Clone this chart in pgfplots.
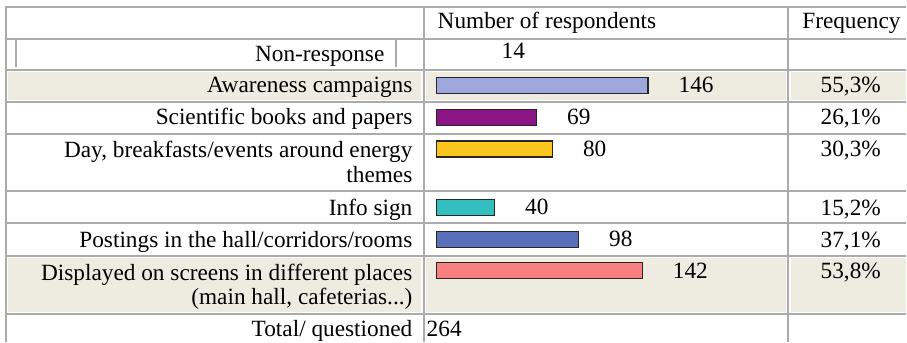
\documentclass[border=0pt]{standalone}
\usepackage{fontspec}
\setmainfont{Liberation Serif}
\usepackage{pgfplots}
\pgfplotsset{compat=1.18}

\definecolor{rule}{HTML}{ABABAB}
\definecolor{cellbg}{HTML}{EEECE1}
\definecolor{cAware}{HTML}{9FA8DE}
\definecolor{cBooks}{HTML}{8C1585}
\definecolor{cDay}{HTML}{FAC51C}
\definecolor{cInfo}{HTML}{33BFBF}
\definecolor{cPost}{HTML}{5A6FB9}
\definecolor{cScreen}{HTML}{F88080}

\tikzset{
  txt/.style={font=\fontsize{23.3bp}{25bp}\selectfont, inner sep=0pt},
  rl/.style={draw=rule, line width=2bp},
}

\begin{document}
\begin{tikzpicture}
% Frame of the table: rules, shaded rows and all text, in pixel units
\begin{axis}[
  width=907bp, height=342bp, scale only axis,
  xmin=0, xmax=907, ymin=0, ymax=342, y dir=reverse,
  hide axis, clip=false,
]
  \path (axis cs:0,0) rectangle (axis cs:907,342);
  % shaded rows
  \fill[cellbg] (axis cs:8,72.5) rectangle (axis cs:421.5,100.5);
  \fill[cellbg] (axis cs:426.5,72.5) rectangle (axis cs:786.5,100.5);
  \fill[cellbg] (axis cs:791.5,72.5) rectangle (axis cs:907,100.5);
  \fill[cellbg] (axis cs:8,258) rectangle (axis cs:421.5,312);
  \fill[cellbg] (axis cs:426.5,258) rectangle (axis cs:786.5,312);
  \fill[cellbg] (axis cs:791.5,258) rectangle (axis cs:907,312);
  % horizontal rules
  \pgfplotsinvokeforeach{7,39,70.5,102.5,134,191,223,256,314}{
    \draw[rl] (axis cs:5,#1) -- (axis cs:907,#1);
  }
  % vertical rules
  \pgfplotsinvokeforeach{6,424,789}{
    \draw[rl] (axis cs:#1,6) -- (axis cs:#1,342);
  }
  \draw[rl] (axis cs:16.5,40) -- (axis cs:16.5,67.5);
  \draw[rl] (axis cs:396,40) -- (axis cs:396,67.5);
  % header
  \node[txt, anchor=base west] at (axis cs:438,29) {Number of respondents};
  \node[txt, anchor=base west] at (axis cs:803,29) {Frequency};
  % row labels
  \node[txt, anchor=base east] at (axis cs:385,62) {Non-response};
  \node[txt, anchor=base west] at (axis cs:502,59) {14};
  \node[txt, anchor=base east] at (axis cs:413,93) {Awareness campaigns};
  \node[txt, anchor=base east] at (axis cs:413,125) {Scientific books and papers};
  \node[txt, anchor=base east] at (axis cs:413,158) {Day, breakfasts/events around energy};
  \node[txt, anchor=base east] at (axis cs:413,183) {themes};
  \node[txt, anchor=base east] at (axis cs:413,216) {Info sign};
  \node[txt, anchor=base east] at (axis cs:413,248) {Postings in the hall/corridors/rooms};
  \node[txt, anchor=base east] at (axis cs:413,281) {Displayed on screens in different places};
  \node[txt, anchor=base east] at (axis cs:413,305) {(main hall, cafeterias...)};
  \node[txt, anchor=base east] at (axis cs:413,337) {Total/ questioned};
  \node[txt, anchor=base west] at (axis cs:427,337) {264};
  % frequencies
  \node[txt, anchor=base east] at (axis cs:882,93) {55,3\%};
  \node[txt, anchor=base east] at (axis cs:882,125) {26,1\%};
  \node[txt, anchor=base east] at (axis cs:882,157) {30,3\%};
  \node[txt, anchor=base east] at (axis cs:882,216) {15,2\%};
  \node[txt, anchor=base east] at (axis cs:882,248) {37,1\%};
  \node[txt, anchor=base east] at (axis cs:882,279) {53,8\%};
\end{axis}

% Bars: number of respondents per channel
\begin{axis}[
  width=907bp, height=342bp, scale only axis,
  xmin=-301.379, xmax=324.138, ymin=0, ymax=342, y dir=reverse,
  hide axis, clip=false,
  xbar, bar width=16, bar shift=0pt,
  every axis plot/.append style={draw=black!85, line width=1.4bp},
  nodes near coords,
  /pgf/number format/assume math mode=true,
  every node near coord/.append style={txt, anchor=west, xshift=30bp, text=black},
]
  \addplot[fill=cAware]  coordinates {(146,85.5)};
  \addplot[fill=cBooks]  coordinates {(69,117.5)};
  \addplot[fill=cDay]    coordinates {(80,149)};
  \addplot[fill=cInfo]   coordinates {(40,207.5)};
  \addplot[fill=cPost]   coordinates {(98,239.5)};
  \addplot[fill=cScreen] coordinates {(142,271)};
\end{axis}
\end{tikzpicture}
\end{document}
